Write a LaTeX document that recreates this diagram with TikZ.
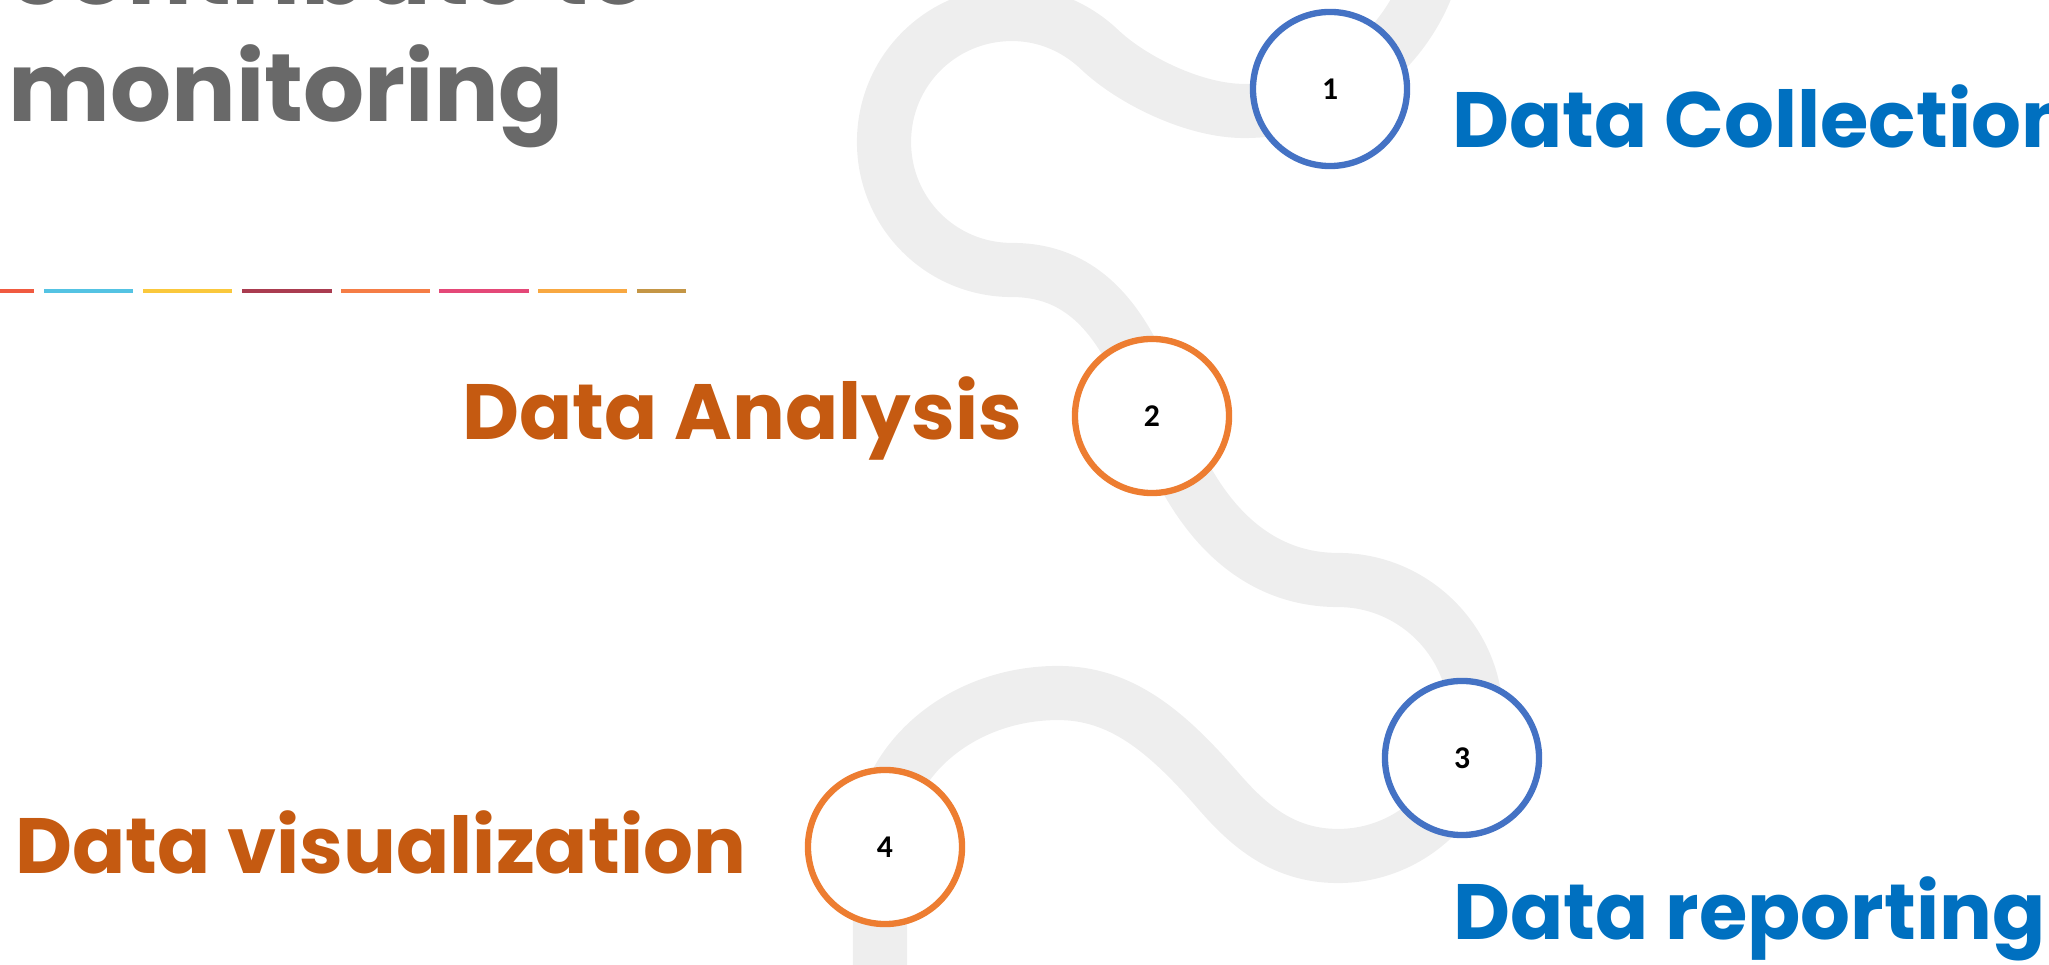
\documentclass[tikz,border=0pt]{standalone}
\usepackage{fontspec}
\setmainfont{Poppins}
\newfontfamily\numfont{Carlito}
\usetikzlibrary{positioning}

\definecolor{roadgray}{HTML}{EEEEEE}
\definecolor{stepblue}{HTML}{4472C4}
\definecolor{steporange}{HTML}{ED7D31}
\definecolor{labelblue}{HTML}{0070C0}
\definecolor{labelbrown}{HTML}{C55A11}
\definecolor{titlegray}{HTML}{696969}
\definecolor{bar1}{HTML}{F05A40}
\definecolor{bar2}{HTML}{54C3E3}
\definecolor{bar3}{HTML}{FAC83C}
\definecolor{bar4}{HTML}{AA3C50}
\definecolor{bar5}{HTML}{F57D46}
\definecolor{bar6}{HTML}{E44878}
\definecolor{bar7}{HTML}{F8A841}
\definecolor{bar8}{HTML}{C49646}

\tikzset{>=latex}
\tikzstyle{road} = [line width=15.4pt, roadgray, line cap=butt]
\tikzstyle{milestone} = [circle, fill=white, line width=1.8pt, minimum size=1.54cm, inner sep=0pt, font=\numfont\bfseries\fontsize{9}{9}\selectfont]
\tikzstyle{steplabel} = [anchor=base west, inner sep=0pt, font=\bfseries\fontsize{22.3}{22.3}\selectfont]
\tikzstyle{headline} = [anchor=base west, inner sep=0pt, titlegray, font=\bfseries\fontsize{27.3}{27.3}\selectfont]
\newcommand{\stage}[4]{
\node[milestone, draw=#4] (#1) at (#2) {#3};
}

\begin{document}
\begin{tikzpicture}[x=0.01cm, y=-0.01cm]
		\useasboundingbox (0,0) rectangle (2049,965);
		\clip (0,0) rectangle (2049,965);

		% Coordinates
		\coordinate (S1) at (1330,89);
		\coordinate (S2) at (1152,416);
		\coordinate (S3) at (1462,758);
		\coordinate (S4) at (885,847);

		% Road
		\draw[road] (1434,-35) .. controls (1411,51) and (1333,111) .. (1244,111)
			.. controls (1195,111) and (1133,81) .. (1100,50)
			.. controls (1076,27) and (1045,14) .. (1012,14)
			.. controls (941,14) and (884,71) .. (884,142)
			.. controls (884,213) and (941,270) .. (1012,270)
			.. controls (1090,270) and (1130,330) .. (1160,420)
			.. controls (1195,520) and (1255,580) .. (1338,580)
			.. controls (1414,580) and (1476,642) .. (1476,718)
			.. controls (1476,794) and (1414,856) .. (1338,856)
			.. controls (1280,856) and (1245,822) .. (1215,787)
			.. controls (1165,730) and (1120,693) .. (1058,693)
			.. controls (960,693) and (880,762) .. (880,847)
			-- (880,1000);

		% Title
		\node[headline] (title1) at (8,5) {contribute to};
		\node[headline] (title2) at (8,122) {monitoring};

		% Coloured bar
		\foreach \a/\b/\c in {-55/34/bar1, 44/133/bar2, 143/232/bar3, 242/332/bar4, 341/430/bar5, 439/529/bar6, 538/627/bar7, 637/686/bar8}
		{
			\draw[\c, line width=1.4pt] (\a,291) -- (\b,291);
		}

		% Stages
		\stage{st1}{S1}{1}{stepblue}
		\stage{st2}{S2}{2}{steporange}
		\stage{st3}{S3}{3}{stepblue}
		\stage{st4}{S4}{4}{steporange}

		% Labels
		\node[steplabel, labelblue] (collect) at (1452,148) {Data Collection};
		\node[steplabel, labelbrown] (analyse) at (462,440) {Data Analysis};
		\node[steplabel, labelblue] (report) at (1453,940) {Data reporting};
		\node[steplabel, labelbrown] (visual) at (15,874) {Data visualization};
	\end{tikzpicture}
\end{document}
